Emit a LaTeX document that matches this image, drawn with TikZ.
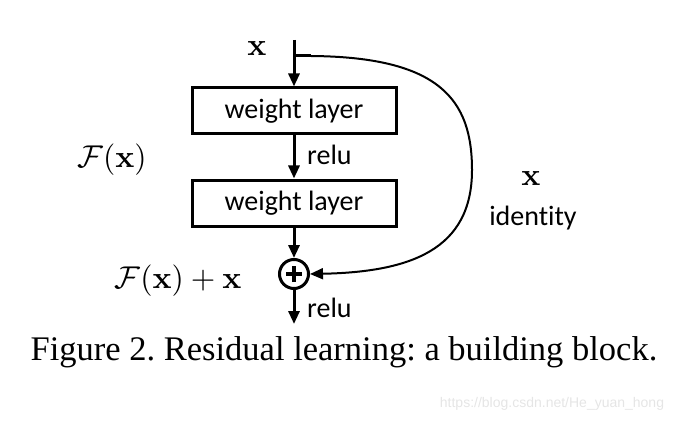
\documentclass[tikz,border=0pt]{standalone}
\usepackage{amsmath,amssymb}
\usepackage[no-math]{fontspec}
\setmainfont{Liberation Serif}
\newfontfamily\calibfont[Ligatures=NoCommon]{Carlito}
\newfontfamily\wmfont{Liberation Sans}
\usetikzlibrary{arrows.meta}

\tikzset{
  layerbox/.style={draw, line width=3pt, minimum width=204pt, minimum height=46pt, inner sep=0pt, font=\calibfont\fontsize{28}{30}\selectfont},
  flow/.style={line width=3pt, -{Triangle[length=13pt,width=11pt]}},
  lbl/.style={font=\calibfont\fontsize{28}{30}\selectfont, anchor=west, inner sep=0pt},
  mathlbl/.style={inner sep=0pt, scale=3.15, transform shape}
}

\begin{document}
\frenchspacing
\begin{tikzpicture}[x=1pt,y=-1pt]
        \useasboundingbox (0,0) rectangle (687,422);
        % input and the two layers
        \coordinate (in) at (294,40);
        \coordinate (split) at (294,56);
        \node[layerbox] (w1) at (294,111) {weight layer};
        \node[layerbox] (w2) at (294,203) {weight layer};
        \node[draw, circle, line width=3pt, minimum size=29pt, inner sep=0pt] (add) at (294,274) {};
        \draw[line width=3.5pt] ([xshift=-8pt]add.center) -- ([xshift=8pt]add.center);
        \draw[line width=3.5pt] ([yshift=-8pt]add.center) -- ([yshift=8pt]add.center);
        \coordinate (out) at (294,324);
        \draw[flow] (in) -- (w1.north -| in);
        \draw[flow] (w1.south -| in) -- (w2.north -| in);
        \draw[flow] (w2.south -| in) -- (add.north);
        \draw[flow] (add.south) -- (out);
        % shortcut
        \draw[line width=3pt] (split) -- (311,56);
        \draw[line width=2pt, -{Triangle[length=13pt,width=11pt]}] (311,56) .. controls (440,57) and (472,100) .. (472,170)
            .. controls (472,250) and (410,272) .. (add.east);
        % labels
        \node[mathlbl] (xin) at (257,49) {$\mathbf{x}$};
        \node[mathlbl] (fx) at (112,160) {$\mathcal{F}(\mathbf{x})$};
        \node[mathlbl] (fxx) at (178,281) {$\mathcal{F}(\mathbf{x})+\mathbf{x}$};
        \node[mathlbl] (xid) at (531,178) {$\mathbf{x}$};
        \node[lbl, anchor=center] (ident) at (533,218) {identity};
        \node[lbl] (relu1) at (307,155) {relu};
        \node[lbl] (relu2) at (307,308) {relu};
        \node[font=\fontsize{34.5}{38}\selectfont, inner sep=0pt] (cap) at (344,352) {Figure 2. Residual learning: a building block.};
        \node[font=\wmfont\fontsize{14}{16}\selectfont, text=black!10, inner sep=0pt] (wm) at (552,404) {https://blog.csdn.net/He\_yuan\_hong};
\end{tikzpicture}
\end{document}
